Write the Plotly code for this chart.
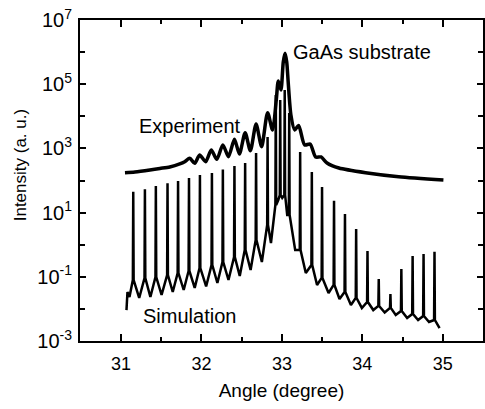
import plotly.graph_objects as go

# ---- data ----
exp_angle = [31.049, 31.173, 31.359, 31.483, 31.606, 31.730, 31.792, 31.854, 31.916, 31.977,
             32.052, 32.122, 32.191, 32.266, 32.336, 32.410, 32.472, 32.543, 32.608, 32.679,
             32.748, 32.822, 32.884, 32.930, 32.955, 32.988, 33.017, 33.039, 33.060, 33.078,
             33.112, 33.159, 33.208, 33.283, 33.351, 33.419, 33.487, 33.561, 33.709, 34.040,
             34.452, 35.008]
exp_intensity = [175, 184, 212, 237, 264, 327, 385, 492, 344, 622,
                 385, 891, 457, 1276, 551, 1919, 670, 3083, 847, 5754,
                 1130, 12940, 3740, 32200, 126000, 65900, 492000, 918000, 492000, 117000,
                 10960, 3740, 5160, 1276, 1371, 540, 540, 351, 245, 175,
                 131, 104]

sim_angle = [31.068, 31.080, 31.105,
             31.147, 31.152, 31.157, 31.226,
             31.292, 31.297, 31.302, 31.365,
             31.428, 31.433, 31.438, 31.504,
             31.573, 31.578, 31.583, 31.643,
             31.704, 31.709, 31.714, 31.779,
             31.840, 31.845, 31.850, 31.916,
             31.976, 31.981, 31.986, 32.058,
             32.125, 32.130, 32.135, 32.198,
             32.261, 32.266, 32.271, 32.336,
             32.405, 32.410, 32.415, 32.476,
             32.538, 32.543, 32.548, 32.611,
             32.674, 32.679, 32.684, 32.751,
             32.817, 32.822, 32.827, 32.864,
             32.919, 32.924, 32.929, 32.955,
             32.974, 32.979, 32.984, 33.004,
             33.030, 33.035, 33.040, 33.066,
             33.086, 33.091, 33.096, 33.165,
             33.222, 33.227, 33.232, 33.297,
             33.367, 33.372, 33.377, 33.437,
             33.494, 33.499, 33.504, 33.580,
             33.643, 33.648, 33.653, 33.716,
             33.779, 33.784, 33.789, 33.858,
             33.918, 33.923, 33.928, 33.994,
             34.059, 34.064, 34.069, 34.136,
             34.199, 34.204, 34.209, 34.278,
             34.344, 34.349, 34.354, 34.415,
             34.480, 34.485, 34.490, 34.557,
             34.620, 34.625, 34.630, 34.693,
             34.756, 34.761, 34.766, 34.829,
             34.892, 34.897, 34.902, 34.960]
sim_intensity = [0.0092, 0.0336, 0.0235,
                 0.0794, 44.8, 0.0794, 0.0219,
                 0.0918, 53.2, 0.0918, 0.0235,
                 0.0986, 67.4, 0.0986, 0.0271,
                 0.114, 81.8, 0.114, 0.0336,
                 0.131, 96.4, 0.131, 0.0388,
                 0.152, 120, 0.152, 0.0448,
                 0.188, 148, 0.188, 0.0499,
                 0.233, 171, 0.233, 0.0641,
                 0.289, 220, 0.289, 0.0794,
                 0.414, 283, 0.414, 0.106,
                 0.684, 351, 0.684, 0.163,
                 1.40, 719, 1.40, 0.289,
                 4.11, 2265, 4.11, 1.13,
                 17.3, 46100, 17.3, 24.7,
                 35.3, 32200, 35.3, 28.5,
                 35.3, 65900, 35.3, 8.41,
                 8.41, 12700, 8.41, 0.684,
                 0.684, 773, 0.684, 0.131,
                 0.233, 184, 0.233, 0.0556,
                 0.0918, 62.8, 0.0918, 0.0313,
                 0.0556, 23.5, 0.0556, 0.0203,
                 0.0336, 9.04, 0.0336, 0.0132,
                 0.0219, 3.08, 0.0219, 0.0107,
                 0.0164, 0.637, 0.0164, 0.0092,
                 0.0123, 0.0853, 0.0123, 0.0077,
                 0.0107, 0.0291, 0.0107, 0.0065,
                 0.0086, 0.175, 0.0086, 0.0052,
                 0.0069, 0.445, 0.0069, 0.0045,
                 0.0060, 0.513, 0.0060, 0.0039,
                 0.0045, 0.605, 0.0045, 0.0025]

x_tickvals = [31, 32, 33, 34, 35]
x_ticktext = ["31", "32", "33", "34", "35"]
y_tickvals = [1e-3, 1e-1, 1e1, 1e3, 1e5, 1e7]
y_ticktext = ["10<sup>-3</sup>", "10<sup>-1</sup>", "10<sup>1</sup>",
              "10<sup>3</sup>", "10<sup>5</sup>", "10<sup>7</sup>"]
y_minorvals = [1e-2, 1e0, 1e2, 1e4, 1e6]

FONT = "Liberation Sans, Arial, sans-serif"

fig = go.Figure()
fig.add_trace(go.Scatter(x=sim_angle, y=sim_intensity, mode="lines",
                         line=dict(color="black", width=2.5), name="Simulation"))
fig.add_trace(go.Scatter(x=exp_angle, y=exp_intensity, mode="lines",
                         line=dict(color="black", width=3.5, shape="spline", smoothing=0.7),
                         name="Experiment"))

fig.update_layout(
    width=485, height=409,
    margin=dict(l=80, r=0, t=20, b=68),
    paper_bgcolor="white", plot_bgcolor="white",
    showlegend=False,
    font=dict(family=FONT, color="black", size=17),
)

fig.update_xaxes(
    range=[30.49, 35.5],
    tickvals=x_tickvals, ticktext=x_ticktext,
    ticks="inside", ticklen=7, tickwidth=2, tickcolor="black",
    minor=dict(dtick=0.5, ticks="inside", ticklen=4, tickwidth=2, tickcolor="black"),
    showline=True, linewidth=2, linecolor="black", mirror="ticks",
    showgrid=False, zeroline=False,
    tickfont=dict(size=18),
    ticklabelstandoff=5,
    title=dict(text="Angle (degree)", font=dict(size=19), standoff=11),
)
fig.update_yaxes(
    type="log", range=[-3, 7],
    tickvals=y_tickvals, ticktext=y_ticktext,
    ticks="inside", ticklen=6, tickwidth=2, tickcolor="black",
    minor=dict(tickvals=y_minorvals, ticks="inside", ticklen=5, tickwidth=2, tickcolor="black"),
    showline=True, linewidth=2, linecolor="black", mirror="ticks",
    showgrid=False, zeroline=False,
    tickfont=dict(size=20),
    ticklabelstandoff=2,
)

fig.add_annotation(text="Intensity (a. u.)", xref="paper", yref="paper",
                   x=(20 - 80) / 405, y=(341 - 165) / 321, textangle=-90,
                   showarrow=False, font=dict(size=17), xanchor="center", yanchor="middle")
fig.add_annotation(text="GaAs substrate", x=33.112, y=6.003, xanchor="left", yanchor="middle",
                   showarrow=False, font=dict(size=20))
fig.add_annotation(text="Experiment", x=31.194, y=3.698, xanchor="left", yanchor="middle",
                   showarrow=False, font=dict(size=20))
fig.add_annotation(text="Simulation", x=31.244, y=-2.212, xanchor="left", yanchor="middle",
                   showarrow=False, font=dict(size=20))

fig.write_html("out.html")
